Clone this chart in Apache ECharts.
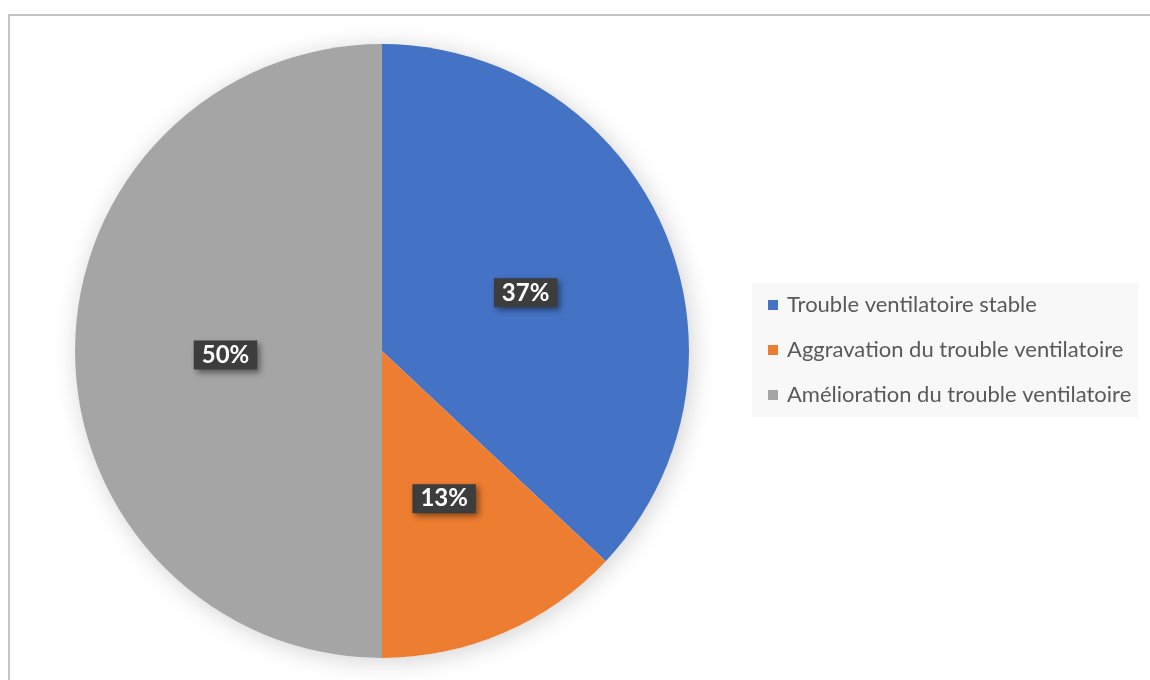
<!DOCTYPE html>
<html>
<head>
<meta charset="utf-8">
<script src="https://cdn.jsdelivr.net/npm/echarts@6/dist/echarts.min.js"></script>
<style>
  html, body { margin: 0; padding: 0; background: #ffffff; }
  #chart { width: 1150px; height: 680px; }
</style>
</head>
<body>
<div id="chart"></div>
<script>
// Évolution du trouble ventilatoire
const categories = [
  'Trouble ventilatoire stable',
  'Aggravation du trouble ventilatoire',
  'Amélioration du trouble ventilatoire'
];
const values = [37, 13, 50];
const colors = ['#4472c4', '#ed7d31', '#a5a5a5'];

const chart = echarts.init(document.getElementById('chart'));

const center = [382, 351];
const radius = 307;

chart.setOption({
  backgroundColor: '#ffffff',
  animation: false,
  color: colors,
  graphic: [
    {
      type: 'rect',
      shape: { x: 9, y: 15, width: 1200, height: 720 },
      style: { fill: 'none', stroke: '#c4c4c4', lineWidth: 2 },
      silent: true,
      z: -10
    }
  ],
  legend: {
    orient: 'vertical',
    left: 752,
    top: 283,
    backgroundColor: '#f8f8f8',
    padding: [11, 7, 11, 16],
    itemGap: 23,
    itemWidth: 10,
    itemHeight: 10,
    icon: 'rect',
    textStyle: {
      fontFamily: 'Lato',
      fontSize: 22,
      color: '#595959',
      padding: [0, 0, 0, 4]
    },
    data: categories
  },
  series: [
    {
      // soft shadow behind the whole disc
      type: 'pie',
      center: center,
      radius: radius,
      silent: true,
      label: { show: false },
      labelLine: { show: false },
      z: 1,
      data: [{
        value: 1,
        name: '',
        itemStyle: {
          color: '#ffffff',
          shadowBlur: 24,
          shadowColor: 'rgba(0,0,0,0.18)',
          shadowOffsetX: 3,
          shadowOffsetY: 3
        }
      }]
    },
    {
      type: 'pie',
      center: center,
      radius: radius,
      startAngle: 90,
      clockwise: true,
      z: 2,
      itemStyle: { borderWidth: 0 },
      label: {
        show: true,
        position: 'inside',
        formatter: function (p) { return p.value + '%'; },
        fontFamily: 'Lato',
        fontWeight: 'bold',
        fontSize: 24,
        color: '#ffffff',
        backgroundColor: '#3d3d3d',
        padding: [3, 8, 2, 8],
        offset: [0, 4],
        shadowColor: 'rgba(0,0,0,0.45)',
        shadowBlur: 6,
        shadowOffsetX: 3,
        shadowOffsetY: 3
      },
      labelLine: { show: false },
      emphasis: { disabled: true },
      data: categories.map(function (name, i) {
        return { name: name, value: values[i] };
      })
    }
  ]
});
</script>
</body>
</html>
